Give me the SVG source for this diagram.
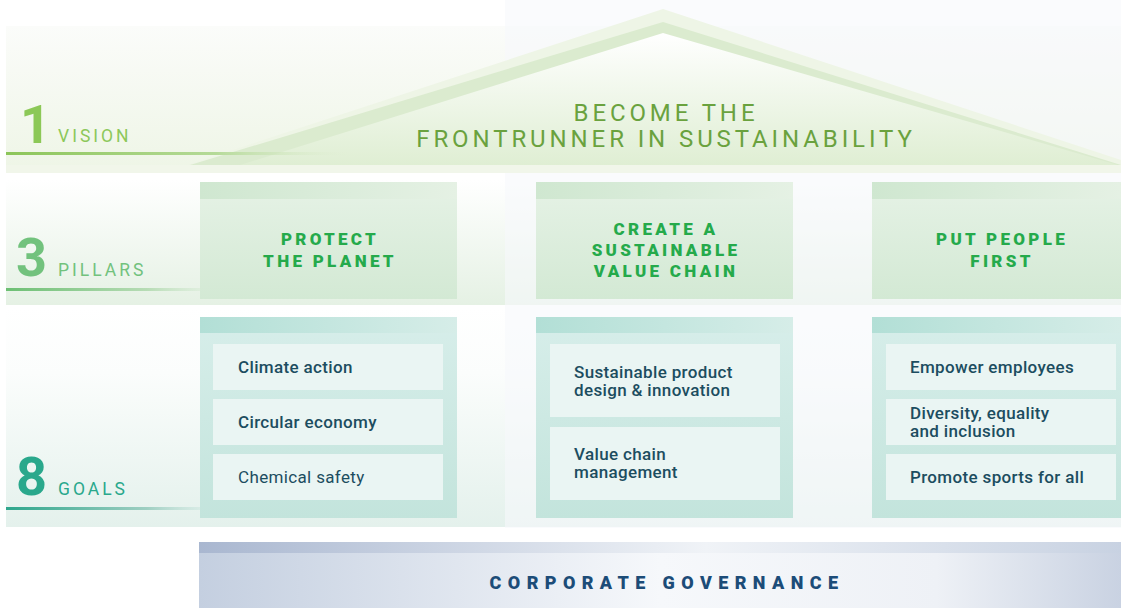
<svg xmlns="http://www.w3.org/2000/svg" width="1121" height="608" viewBox="0 0 1121 608">
<defs>
<linearGradient id="gVis" x1="0" y1="0" x2="0" y2="1"><stop offset="0" stop-color="#fbfcfa"/><stop offset="1" stop-color="#eef5e6"/></linearGradient>
<linearGradient id="gPil" x1="0" y1="0" x2="0" y2="1"><stop offset="0" stop-color="#ffffff"/><stop offset="1" stop-color="#e5f1e4"/></linearGradient>
<linearGradient id="gGoal" x1="0" y1="0" x2="0" y2="1"><stop offset="0" stop-color="#ffffff"/><stop offset="0.3" stop-color="#fbfdfc"/><stop offset="1" stop-color="#e4f1ec"/></linearGradient>
<linearGradient id="gRoof" x1="0" y1="0" x2="0" y2="1"><stop offset="0" stop-color="#ffffff"/><stop offset="1" stop-color="#dfeed3"/></linearGradient>
<linearGradient id="gLineV" x1="0" y1="0" x2="1" y2="0"><stop offset="0" stop-color="#8cc559"/><stop offset="0.6" stop-color="#b5da98"/><stop offset="1" stop-color="#e4f0da" stop-opacity="0"/></linearGradient>
<linearGradient id="gLineP" x1="0" y1="0" x2="1" y2="0"><stop offset="0" stop-color="#6cbf73"/><stop offset="0.6" stop-color="#b7dcb5"/><stop offset="1" stop-color="#e4f1e3" stop-opacity="0"/></linearGradient>
<linearGradient id="gLineG" x1="0" y1="0" x2="1" y2="0"><stop offset="0" stop-color="#2ea68c"/><stop offset="0.6" stop-color="#9fcfc2"/><stop offset="1" stop-color="#e0f0eb" stop-opacity="0"/></linearGradient>
<linearGradient id="gPBox" x1="0" y1="0" x2="0" y2="1"><stop offset="0" stop-color="#e6f2e6"/><stop offset="1" stop-color="#d3e9d4"/></linearGradient>
<linearGradient id="gPTop" x1="0" y1="0" x2="1" y2="0"><stop offset="0" stop-color="#cfe7d0"/><stop offset="1" stop-color="#e5f1e4"/></linearGradient>
<linearGradient id="gGBox" x1="0" y1="0" x2="0" y2="1"><stop offset="0" stop-color="#d7eeea"/><stop offset="1" stop-color="#c3e4dc"/></linearGradient>
<linearGradient id="gGTop" x1="0" y1="0" x2="1" y2="0"><stop offset="0" stop-color="#b2dfd6"/><stop offset="1" stop-color="#d6ede8"/></linearGradient>
<linearGradient id="gCG" x1="0" y1="0" x2="1" y2="0"><stop offset="0" stop-color="#c4cfe0"/><stop offset="0.5" stop-color="#f6f8fb"/><stop offset="0.8" stop-color="#eef1f6"/><stop offset="1" stop-color="#c9d2e2"/></linearGradient>
<linearGradient id="gCGTop" x1="0" y1="0" x2="1" y2="0"><stop offset="0" stop-color="#a9b7d0"/><stop offset="0.55" stop-color="#f0f3f7"/><stop offset="1" stop-color="#c8d2e2"/></linearGradient>
<style>
.num{font-family:Roboto,"DejaVu Sans",sans-serif;font-weight:700;font-size:54px}
.lbl{font-family:Roboto,"DejaVu Sans",sans-serif;font-size:17.5px;letter-spacing:3px}
.vis{font-family:Roboto,"DejaVu Sans",sans-serif;font-size:24px;letter-spacing:3.9px;fill:#6aa23e;text-anchor:middle}
.pil{font-family:Roboto,"DejaVu Sans",sans-serif;font-weight:900;font-size:17px;letter-spacing:3.3px;fill:#25aa4b;text-anchor:middle}
.goal{font-family:Roboto,"DejaVu Sans",sans-serif;font-weight:500;font-size:17px;letter-spacing:0.35px;fill:#1c4d60}
.cg{font-family:Roboto,"DejaVu Sans",sans-serif;font-weight:900;font-size:18px;letter-spacing:6.4px;fill:#1c4c78;text-anchor:middle}
.gbox{fill:#eaf5f3}
</style>
</defs>
<rect width="1121" height="608" fill="#ffffff"/>
<!-- bands -->
<rect x="6" y="26" width="1115" height="147" fill="url(#gVis)"/>
<rect x="6" y="180" width="1115" height="125" fill="url(#gPil)"/>
<rect x="6" y="307" width="1115" height="220" fill="url(#gGoal)"/>
<rect x="505" y="0" width="616" height="528" fill="#f7f9fc" opacity="0.6"/>
<!-- roof -->
<g id="roof">
<polygon points="187,165 663,9 1121,160 1121,165" fill="#eef5e6"/>
<polygon points="190,165 663,22 1121,165" fill="#dbebcf"/>
<polygon points="240,165 663,33 1121,166" fill="url(#gRoof)"/>
<rect x="6" y="165" width="1115" height="8" fill="#f1f6ea"/>
</g>
<!-- left labels -->
<g id="vision-label">
<text x="20" y="143" class="num" fill="#8cc857">1</text>
<text x="58" y="142" class="lbl" fill="#8cc85a">VISION</text>
<rect x="6" y="152" width="350" height="3" fill="url(#gLineV)"/>
</g>
<g id="vision">
<text x="666" y="121" class="vis">BECOME THE</text>
<text x="666" y="147" class="vis">FRONTRUNNER IN SUSTAINABILITY</text>
</g>
<g id="pillars-label">
<text x="16" y="276" class="num" fill="#72c27d">3</text>
<text x="58" y="276" class="lbl" fill="#72c27d">PILLARS</text>
<rect x="6" y="288" width="235" height="3" fill="url(#gLineP)"/>
</g>
<g id="goals-label">
<text x="16" y="495" class="num" fill="#2aa88c">8</text>
<text x="58" y="495" class="lbl" fill="#2aa88c">GOALS</text>
<rect x="6" y="507" width="235" height="3" fill="url(#gLineG)"/>
</g>
<!-- pillars -->
<g id="pillar-planet">
<rect x="200" y="182" width="257" height="117" fill="url(#gPBox)"/>
<rect x="200" y="182" width="257" height="17" fill="url(#gPTop)"/>
<text x="330" y="245" class="pil">PROTECT</text>
<text x="330" y="267" class="pil">THE PLANET</text>
</g>
<g id="pillar-value-chain">
<rect x="536" y="182" width="257" height="117" fill="url(#gPBox)"/>
<rect x="536" y="182" width="257" height="17" fill="url(#gPTop)"/>
<text x="666" y="235" class="pil">CREATE A</text>
<text x="666" y="256" class="pil">SUSTAINABLE</text>
<text x="666" y="277" class="pil">VALUE CHAIN</text>
</g>
<g id="pillar-people">
<rect x="872" y="182" width="249" height="117" fill="url(#gPBox)"/>
<rect x="872" y="182" width="249" height="17" fill="url(#gPTop)"/>
<text x="1002" y="245" class="pil">PUT PEOPLE</text>
<text x="1002" y="267" class="pil">FIRST</text>
</g>
<!-- goals -->
<g id="goals-planet">
<rect x="200" y="317" width="257" height="201" fill="url(#gGBox)"/>
<rect x="200" y="317" width="257" height="16" fill="url(#gGTop)"/>
<rect x="213" y="344" width="230" height="46" class="gbox"/>
<rect x="213" y="399" width="230" height="46" class="gbox"/>
<rect x="213" y="454" width="230" height="46" class="gbox"/>
<text x="238" y="373" class="goal">Climate action</text>
<text x="238" y="428" class="goal">Circular economy</text>
<text x="238" y="483" class="goal" style="font-weight:400">Chemical safety</text>
</g>
<g id="goals-value-chain">
<rect x="536" y="317" width="257" height="201" fill="url(#gGBox)"/>
<rect x="536" y="317" width="257" height="16" fill="url(#gGTop)"/>
<rect x="550" y="344" width="230" height="73" class="gbox"/>
<rect x="550" y="427" width="230" height="73" class="gbox"/>
<text x="574" y="378" class="goal">Sustainable product</text>
<text x="574" y="396" class="goal">design &amp; innovation</text>
<text x="574" y="460" class="goal">Value chain</text>
<text x="574" y="478" class="goal">management</text>
</g>
<g id="goals-people">
<rect x="872" y="317" width="249" height="201" fill="url(#gGBox)"/>
<rect x="872" y="317" width="249" height="16" fill="url(#gGTop)"/>
<rect x="886" y="344" width="230" height="46" class="gbox"/>
<rect x="886" y="399" width="230" height="46" class="gbox"/>
<rect x="886" y="454" width="230" height="46" class="gbox"/>
<text x="910" y="373" class="goal">Empower employees</text>
<text x="910" y="419" class="goal">Diversity, equality</text>
<text x="910" y="437" class="goal">and inclusion</text>
<text x="910" y="483" class="goal">Promote sports for all</text>
</g>
<!-- governance -->
<g id="governance">
<rect x="199" y="542" width="922" height="66" fill="url(#gCG)"/>
<rect x="199" y="542" width="922" height="11" fill="url(#gCGTop)"/>
<text x="667" y="589" class="cg">CORPORATE GOVERNANCE</text>
</g>
<g id="connectors"/>
</svg>
